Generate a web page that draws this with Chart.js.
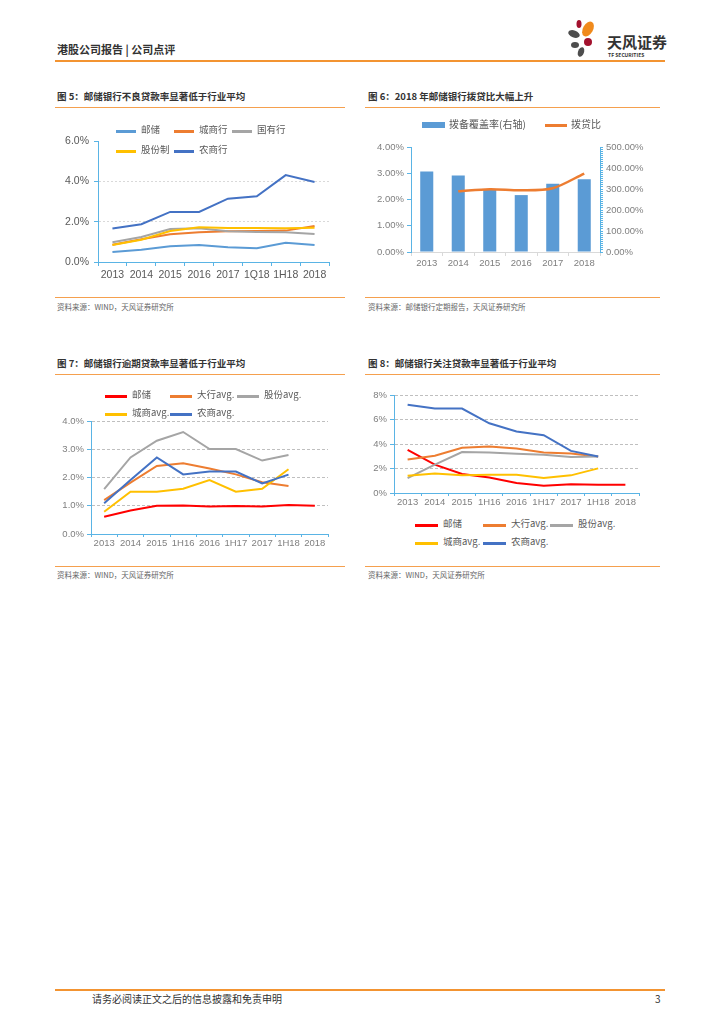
<!DOCTYPE html>
<html>
<head>
<meta charset="utf-8">
<script src="https://cdn.jsdelivr.net/npm/chart.js@4.4.1/dist/chart.umd.min.js"></script>
<style>
body { margin: 0; width: 724px; height: 1024px; position: relative; overflow: hidden; background: #fff; font-family: "Noto Sans CJK SC", sans-serif; }
.hline { position: absolute; height: 1px; background: #F5A04E; }
.title { position: absolute; font-size: 9.5px; font-weight: bold; color: #333; white-space: nowrap; line-height: 1; }
.src { position: absolute; font-size: 7.5px; color: #666; white-space: nowrap; line-height: 1; }
.box { position: absolute; }
.lg { position: absolute; font-size: 9.5px; color: #595959; white-space: nowrap; line-height: 1; }
.sw { position: absolute; height: 2.5px; }
</style>
</head>
<body>

<!-- header -->
<div class="title" style="left:57px;top:44px;font-size:11px;">港股公司报告 | 公司点评</div>
<svg style="position:absolute;left:566px;top:19px" width="44" height="42">
  <ellipse cx="22" cy="10" rx="5" ry="8" transform="rotate(30 22 10)" fill="#F08A1C"/>
  <ellipse cx="13" cy="5" rx="2.5" ry="4" fill="#A3122E"/>
  <ellipse cx="8" cy="15" rx="6" ry="3.5" transform="rotate(20 8 15)" fill="#4D4D4D"/>
  <ellipse cx="9" cy="26" rx="4" ry="3" fill="#4D4D4D"/>
  <ellipse cx="22" cy="23" rx="4" ry="4" fill="#A3122E"/>
  <ellipse cx="15" cy="33" rx="3" ry="5" transform="rotate(20 15 33)" fill="#4D4D4D"/>
</svg>
<div class="title" style="left:607px;top:34px;font-size:15px;color:#333;">天风证券</div>
<div class="title" style="left:608px;top:52px;font-size:5px;color:#333;">TF SECURITIES</div>
<div class="hline" style="left:55px;top:60px;width:610px;height:1.5px;background:#F39431;"></div>

<!-- titles -->
<div class="title" style="left:57px;top:92px;">图 5：邮储银行不良贷款率显著低于行业平均</div>
<div class="hline" style="left:55px;top:107px;width:290px;"></div>
<div class="title" style="left:368px;top:92px;">图 6：2018 年邮储银行拨贷比大幅上升</div>
<div class="hline" style="left:365px;top:107px;width:295px;"></div>

<div class="hline" style="left:55px;top:297px;width:290px;"></div>
<div class="src" style="left:57px;top:303px;">资料来源：WIND，天风证券研究所</div>
<div class="hline" style="left:365px;top:297px;width:295px;"></div>
<div class="src" style="left:368px;top:303px;">资料来源：邮储银行定期报告，天风证券研究所</div>

<div class="title" style="left:57px;top:359px;">图 7：邮储银行逾期贷款率显著低于行业平均</div>
<div class="hline" style="left:55px;top:374px;width:290px;"></div>
<div class="title" style="left:368px;top:359px;">图 8：邮储银行关注贷款率显著低于行业平均</div>
<div class="hline" style="left:365px;top:374px;width:295px;"></div>

<div class="hline" style="left:55px;top:566px;width:290px;"></div>
<div class="src" style="left:57px;top:571px;">资料来源：WIND，天风证券研究所</div>
<div class="hline" style="left:365px;top:566px;width:295px;"></div>
<div class="src" style="left:368px;top:571px;">资料来源：WIND，天风证券研究所</div>

<!-- footer -->
<div class="hline" style="left:55px;top:989px;width:610px;height:1.5px;background:#F39431;"></div>
<div class="src" style="left:92px;top:994px;font-size:10px;color:#333;">请务必阅读正文之后的信息披露和免责申明</div>
<div class="src" style="left:655px;top:994px;font-size:10px;color:#333;">3</div>

<!-- charts -->
<div class="box" style="left:57px;top:130px;width:280px;height:160px;"><canvas id="chart5"></canvas></div>
<div class="box" style="left:362px;top:137px;width:300px;height:135px;"><canvas id="chart6"></canvas></div>
<div class="box" style="left:57px;top:411px;width:285px;height:145px;"><canvas id="chart7"></canvas></div>
<div class="box" style="left:362px;top:385px;width:290px;height:125px;"><canvas id="chart8"></canvas></div>

<!-- legends -->
<div id="legend5"></div>
<div id="legend6"></div>
<div id="legend7"></div>
<div id="legend8"></div>

<script>
// 图5 不良贷款率 (%)
const labels5 = ['2013', '2014', '2015', '2016', '2017', '1Q18', '1H18', '2018'];
const names5 = ['邮储', '城商行', '国有行', '股份制', '农商行'];
const psbc5 = [0.50, 0.61, 0.78, 0.85, 0.73, 0.68, 0.96, 0.84];
const city5 = [0.86, 1.13, 1.38, 1.48, 1.53, 1.54, 1.56, 1.79];
const state5 = [0.98, 1.24, 1.64, 1.68, 1.53, 1.49, 1.48, 1.39];
const joint5 = [0.84, 1.11, 1.54, 1.73, 1.69, 1.69, 1.68, 1.70];
const rural5 = [1.66, 1.88, 2.49, 2.49, 3.15, 3.27, 4.32, 3.98];
const yTicks5 = [0, 2, 4, 6];

// 图6 拨备覆盖率 / 拨贷比 (%)
const labels6 = ['2013', '2014', '2015', '2016', '2017', '2018'];
const names6 = ['拨备覆盖率(右轴)', '拨贷比'];
const coverage6 = [383, 364, 299, 271, 325, 347];
const provision6 = [null, 2.31, 2.39, 2.35, 2.43, 2.99];

// 图7 逾期贷款率 (%)
const labels78 = ['2013', '2014', '2015', '1H16', '2016', '1H17', '2017', '1H18', '2018'];
const names78 = ['邮储', '大行avg.', '股份avg.', '城商avg.', '农商avg.'];
const psbc7 = [0.61, 0.83, 1.00, 1.01, 0.97, 0.99, 0.97, 1.03, 1.00];
const big7 = [1.20, 1.82, 2.41, 2.50, 2.32, 2.11, 1.83, 1.70, null];
const joint7 = [1.59, 2.71, 3.30, 3.61, 3.01, 3.01, 2.60, 2.80, null];
const city7 = [0.79, 1.50, 1.50, 1.60, 1.91, 1.50, 1.60, 2.29, null];
const rural7 = [1.09, 1.91, 2.71, 2.11, 2.21, 2.21, 1.79, 2.10, null];

// 图8 关注贷款率 (%)
const psbc8 = [3.53, 2.31, 1.55, 1.27, 0.81, 0.60, 0.71, 0.68, 0.68];
const big8 = [2.74, 3.04, 3.69, 3.80, 3.63, 3.31, 3.23, 2.98, null];
const joint8 = [1.22, 2.31, 3.34, 3.31, 3.20, 3.12, 2.93, 2.98, null];
const city8 = [1.41, 1.60, 1.44, 1.49, 1.49, 1.22, 1.44, 2.01, null];
const rural8 = [7.21, 6.89, 6.89, 5.69, 5.02, 4.72, 3.44, 2.98, null];

const colors5 = ['#5B9BD5', '#ED7D31', '#A5A5A5', '#FFC000', '#4472C4'];
const colors78 = ['#FF0000', '#ED7D31', '#A5A5A5', '#FFC000', '#4472C4'];
const axisColor = '#5AB4E5';
const tickFont = { family: '"Liberation Sans", Arial, sans-serif', size: 9.5 };
const tickFont5 = { family: '"Liberation Sans", Arial, sans-serif', size: 10.5 };

const makeSets = (names, series, colors) => series.map((data, i) => ({
    label: names[i],
    data: data,
    borderColor: colors[i],
    backgroundColor: colors[i],
    borderWidth: 2,
    pointRadius: 0,
    tension: 0,
    spanGaps: false,
    order: series.length - i
}));

const lineOptions = (cfg) => ({
    responsive: true,
    maintainAspectRatio: false,
    animation: false,
    layout: { padding: cfg.padding },
    plugins: { legend: { display: false }, tooltip: { enabled: false } },
    scales: {
        x: {
            offset: true,
            grid: { offset: true, drawOnChartArea: false, tickColor: axisColor, tickLength: cfg.xTick },
            border: { color: axisColor, width: 1 },
            ticks: { font: cfg.font, color: cfg.tickColor, padding: cfg.xPad, maxRotation: 0, autoSkip: false },
            afterFit: s => { s.height = cfg.xHeight; }
        },
        y: {
            min: 0, max: cfg.max,
            grid: {
                color: ctx => (ctx.tick.value === 0 || (cfg.hideTop && ctx.tick.value === cfg.max)) ? 'transparent' : cfg.gridColor,
                tickColor: axisColor, tickLength: 4
            },
            border: { color: axisColor, width: 1, dash: cfg.dash },
            ticks: { stepSize: cfg.step, font: cfg.font, color: cfg.tickColor, padding: cfg.yPad, callback: cfg.fmt },
            afterFit: s => { s.width = cfg.yWidth; }
        }
    }
});

new Chart('chart5', {
    type: 'line',
    data: { labels: labels5, datasets: makeSets(names5, [psbc5, city5, state5, joint5, rural5], colors5) },
    options: lineOptions({
        padding: { top: 10, right: 8, left: 0, bottom: 0 },
        max: yTicks5[yTicks5.length - 1], step: 2, hideTop: true,
        gridColor: '#D9D9D9', dash: [2, 2], font: tickFont5,
        tickColor: '#595959', xTick: 4, xPad: 3, xHeight: 28, yPad: 5, yWidth: 41,
        fmt: v => v.toFixed(1) + '%'
    })
});

new Chart('chart6', {
    type: 'bar',
    data: {
        labels: labels6,
        datasets: [
            { type: 'bar', label: names6[0], data: coverage6, yAxisID: 'y1', backgroundColor: '#5B9BD5',
              categoryPercentage: 0.46, barPercentage: 0.9, order: 2 },
            { type: 'line', label: names6[1], data: provision6, yAxisID: 'y', borderColor: '#ED7D31',
              borderWidth: 2.5, pointRadius: 0, tension: 0.3, order: 1 }
        ]
    },
    options: {
        responsive: true,
        maintainAspectRatio: false,
        animation: false,
        layout: { padding: { top: 10, right: 0, left: 0, bottom: 0 } },
        plugins: { legend: { display: false }, tooltip: { enabled: false } },
        scales: {
            x: {
                grid: { offset: true, drawOnChartArea: false, tickColor: '#D9D9D9', tickLength: 4 },
                border: { color: '#D9D9D9' },
                ticks: { font: tickFont, color: '#7F7F7F', padding: 2, maxRotation: 0 },
                afterFit: s => { s.height = 20; }
            },
            y: {
                position: 'left', min: 0, max: 4,
                grid: { drawOnChartArea: false, tickColor: axisColor, tickLength: 4 },
                border: { color: axisColor },
                ticks: { stepSize: 1, font: tickFont, color: '#7F7F7F', padding: 3, callback: v => v.toFixed(2) + '%' },
                afterFit: s => { s.width = 49; }
            },
            y1: {
                position: 'right', min: 0, max: 500,
                grid: { drawOnChartArea: false, tickColor: axisColor, tickLength: 3 },
                border: { color: axisColor },
                ticks: { stepSize: 10, autoSkip: false, font: tickFont, color: '#7F7F7F', padding: 3,
                         callback: v => v % 100 === 0 ? v.toFixed(2) + '%' : '' },
                afterFit: s => { s.width = 62; }
            }
        }
    }
});

new Chart('chart7', {
    type: 'line',
    data: { labels: labels78, datasets: makeSets(names78, [psbc7, big7, joint7, city7, rural7], colors78) },
    options: lineOptions({
        padding: { top: 10, right: 14, left: 0, bottom: 0 },
        max: 4, step: 1, hideTop: false,
        gridColor: '#BFBFBF', dash: [3, 2], font: tickFont,
        tickColor: '#7F7F7F', xTick: 3, xPad: 1, xHeight: 22, yPad: 3, yWidth: 34,
        fmt: v => v.toFixed(1) + '%'
    })
});

new Chart('chart8', {
    type: 'line',
    data: { labels: labels78, datasets: makeSets(names78, [psbc8, big8, joint8, city8, rural8], colors78) },
    options: lineOptions({
        padding: { top: 10, right: 13, left: 0, bottom: 0 },
        max: 8, step: 2, hideTop: false,
        gridColor: '#BFBFBF', dash: [3, 2], font: tickFont,
        tickColor: '#7F7F7F', xTick: 3, xPad: 1, xHeight: 17, yPad: 3, yWidth: 32,
        fmt: v => v + '%'
    })
});

// html legends, placed like the excel ones
const legendSpots5 = [[116, 131], [174, 131], [232, 131], [116, 151], [174, 151]];
const legendSpots7 = [[105, 396], [170, 396], [237, 396], [105, 414], [170, 414]];
const legendSpots8 = [[415, 525], [483, 525], [550, 525], [415, 543], [483, 543]];

const buildLegend = (id, names, colors, spots, lineW) => {
    const el = document.getElementById(id);
    names.forEach((name, i) => {
        const [x, y] = spots[i];
        const sw = document.createElement('div');
        sw.className = 'sw';
        sw.style.cssText = `left:${x}px;top:${y - 1}px;width:${lineW}px;background:${colors[i]}`;
        const tx = document.createElement('div');
        tx.className = 'lg';
        tx.style.cssText = `left:${x + lineW + 5}px;top:${y - 6}px`;
        tx.textContent = name;
        el.appendChild(sw);
        el.appendChild(tx);
    });
};
buildLegend('legend5', names5, colors5, legendSpots5, 20);
buildLegend('legend7', names78, colors78, legendSpots7, 22);
buildLegend('legend8', names78, colors78, legendSpots8, 23);

// figure 6 legend: bar swatch + line swatch
const lg6 = document.getElementById('legend6');
lg6.innerHTML = `<div class="sw" style="left:422px;top:122px;width:23px;height:6px;background:#5B9BD5"></div>
<div class="lg" style="left:449px;top:119px;font-size:10px">${names6[0]}</div>
<div class="sw" style="left:545px;top:124px;width:22px;background:#ED7D31"></div>
<div class="lg" style="left:571px;top:119px;font-size:10px">${names6[1]}</div>`;
</script>
</body>
</html>
